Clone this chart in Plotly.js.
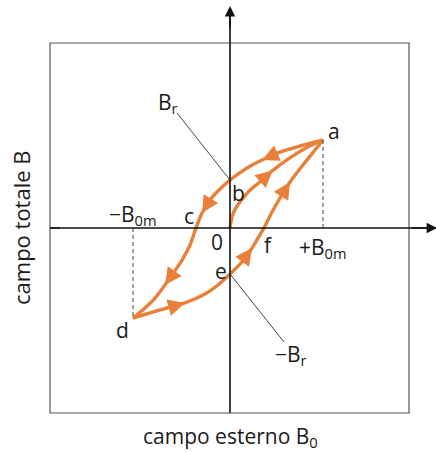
<!DOCTYPE html>
<html>
<head>
<meta charset="utf-8">
<script src="https://cdn.plot.ly/plotly-3.0.1.min.js"></script>
<style>
  html, body { margin: 0; padding: 0; background: #ffffff; }
  #chart { width: 436px; height: 453px; }
</style>
</head>
<body>
<div id="chart"></div>
<script>
// Hysteresis loop: external field B0 (in units of B0m) vs total field B (in units of Bmax)

// First magnetisation curve, from the origin up to saturation point a
const firstX = [0, 0.02, 0.06, 0.12, 0.20, 0.30, 0.45, 0.63, 0.80, 0.979];
const firstY = [0, 0.12, 0.22, 0.31, 0.41, 0.50, 0.64, 0.78, 0.89, 0.978];

// Descending branch a -> b -> c -> d
const downX = [0.979, 0.737, 0.526, 0.337, 0.179, 0, -0.126, -0.211, -0.295, -0.358, -0.421, -0.505, -0.589, -0.684, -0.789, -0.895, -1.021];
const downY = [0.978, 0.911, 0.844, 0.756, 0.667, 0.533, 0.411, 0.311, 0.167, 0, -0.189, -0.356, -0.489, -0.633, -0.778, -0.889, -1.0];

// Ascending branch d -> e -> f -> a
const upX = [-1.021, -0.737, -0.474, -0.263, -0.126, 0, 0.126, 0.232, 0.295, 0.358, 0.442, 0.526, 0.632, 0.768, 0.895, 0.979];
const upY = [-1.0, -0.911, -0.833, -0.733, -0.633, -0.511, -0.378, -0.222, -0.111, 0, 0.178, 0.333, 0.511, 0.700, 0.867, 0.978];

// Point indices carrying a direction arrow on each branch
const firstArrows = [6];
const downArrows = [3, 8, 13];
const upArrows = [2, 7, 12];

// Letters naming the remarkable points of the loop
const pointNames = ['a', 'b', 'c', 'd', 'e', 'f', '0'];

// Axis labels and marked values
const xTitle = 'campo esterno B<sub>0</sub>';
const yTitle = 'campo totale B';
const plusB0m = '+B<sub>0m</sub>';
const minusB0m = '\u2212B<sub>0m</sub>';
const plusBr = 'B<sub>r</sub>';
const minusBr = '\u2212B<sub>r</sub>';

const ORANGE = '#E8803A';
const FONT = 'Open Sans, Noto Sans, sans-serif';

// Pixel geometry: origin at (230, 228); 95 px per B0m unit, 90 px per Bmax unit
const W = 436, H = 453;
const ox = 230, oy = 228, sx = 95, sy = 90;
const xRange = [-ox / sx, (W - ox) / sx];
const yRange = [(oy - H) / sy, oy / sy];
const px = p => (p - ox) / sx;     // pixel column -> data x
const py = p => (oy - p) / sy;     // pixel row -> data y

const curveLine = { color: ORANGE, width: 3.4, shape: 'spline', smoothing: 0.8 };

const traces = [
  { x: firstX, y: firstY, mode: 'lines', line: curveLine, hoverinfo: 'skip' },
  { x: downX, y: downY, mode: 'lines', line: curveLine, hoverinfo: 'skip' },
  { x: upX, y: upY, mode: 'lines', line: curveLine, hoverinfo: 'skip' }
];

const a = [downX[0], downY[0]];
const b = [downX[5], downY[5]];
const c = [downX[9], downY[9]];
const d = [downX[downX.length - 1], downY[downY.length - 1]];
const e = [upX[5], upY[5]];
const f = [upX[9], upY[9]];
const o = [firstX[0], firstY[0]];
const keyPoints = { a: a, b: b, c: c, d: d, e: e, f: f, '0': o };
const labelShift = {
  a: [11, 9], b: [8, -13], c: [-7, 12], d: [-11, -12],
  e: [-9, 3], f: [4, -17], '0': [-13, -14]
};

const shapes = [
  // outer frame
  { type: 'rect', xref: 'x', yref: 'y', x0: px(50), x1: px(409), y0: py(413), y1: py(43),
    line: { color: '#555555', width: 1.2 } },
  // axes
  { type: 'line', xref: 'x', yref: 'y', x0: px(50), x1: xRange[1], y0: 0, y1: 0,
    line: { color: '#111111', width: 1.6 } },
  { type: 'line', xref: 'x', yref: 'y', x0: 0, x1: 0, y0: py(413), y1: py(12),
    line: { color: '#111111', width: 1.6 } },
  // small tick on the left edge of the frame
  { type: 'line', xref: 'x', yref: 'y', x0: px(50), x1: px(60), y0: 0, y1: 0,
    line: { color: '#111111', width: 1.2 } },
  // dashed guides at +B0m and -B0m
  { type: 'line', xref: 'x', yref: 'y', x0: a[0], x1: a[0], y0: 0, y1: a[1],
    line: { color: '#444444', width: 1, dash: '4px,3px' } },
  { type: 'line', xref: 'x', yref: 'y', x0: d[0], x1: d[0], y0: 0, y1: d[1],
    line: { color: '#444444', width: 1, dash: '4px,3px' } },
  // leader lines for the remanent fields
  { type: 'line', xref: 'x', yref: 'y', x0: px(177), y0: py(113), x1: b[0], y1: b[1],
    line: { color: '#444444', width: 1 } },
  { type: 'line', xref: 'x', yref: 'y', x0: e[0], y0: e[1], x1: px(284), y1: py(342),
    line: { color: '#444444', width: 1 } }
];

const annotations = [];

// arrow heads of the axes
annotations.push({ x: 0, y: py(6), ax: 0, ay: py(30), xref: 'x', yref: 'y', axref: 'x', ayref: 'y',
  text: '', showarrow: true, arrowhead: 2, arrowsize: 1.3, arrowwidth: 1.6, arrowcolor: '#111111', standoff: 0 });
annotations.push({ x: px(437), y: 0, ax: px(410), ay: 0, xref: 'x', yref: 'y', axref: 'x', ayref: 'y',
  text: '', showarrow: true, arrowhead: 2, arrowsize: 1.3, arrowwidth: 1.6, arrowcolor: '#111111', standoff: 0 });

// direction arrows along the loop
function addArrows(xs, ys, idx) {
  idx.forEach(i => {
    annotations.push({ x: xs[i], y: ys[i], ax: xs[i - 1], ay: ys[i - 1],
      xref: 'x', yref: 'y', axref: 'x', ayref: 'y', text: '', showarrow: true,
      arrowhead: 2, arrowsize: 1.3, arrowwidth: 2.6, arrowcolor: ORANGE, standoff: 0 });
  });
}
addArrows(firstX, firstY, firstArrows);
addArrows(downX, downY, downArrows);
addArrows(upX, upY, upArrows);

const textFont = { family: FONT, size: 21, color: '#1a1a1a' };

// point letters
pointNames.forEach(n => {
  const p = keyPoints[n];
  annotations.push({ x: p[0], y: p[1], xref: 'x', yref: 'y', text: n, showarrow: false,
    xshift: labelShift[n][0], yshift: labelShift[n][1], font: textFont,
    xanchor: 'center', yanchor: 'middle' });
});

// value labels
annotations.push({ x: a[0], y: 0, xref: 'x', yref: 'y', text: plusB0m, showarrow: false,
  yshift: -20, font: textFont, xanchor: 'center', yanchor: 'middle' });
annotations.push({ x: d[0], y: 0, xref: 'x', yref: 'y', text: minusB0m, showarrow: false,
  xshift: 0, yshift: 13, font: textFont, xanchor: 'center', yanchor: 'middle' });
annotations.push({ x: px(177), y: py(113), xref: 'x', yref: 'y', text: plusBr, showarrow: false,
  xshift: -9, yshift: 10, font: textFont, xanchor: 'center', yanchor: 'middle' });
annotations.push({ x: px(284), y: py(342), xref: 'x', yref: 'y', text: minusBr, showarrow: false,
  xshift: 7, yshift: -13, font: textFont, xanchor: 'center', yanchor: 'middle' });

// axis titles
annotations.push({ x: 0, y: py(437), xref: 'x', yref: 'y', text: xTitle, showarrow: false,
  font: textFont, xanchor: 'center', yanchor: 'middle' });
annotations.push({ x: px(21), y: 0, xref: 'x', yref: 'y', text: yTitle, showarrow: false,
  textangle: -90, font: { family: FONT, size: 22, color: '#1a1a1a' }, xanchor: 'center', yanchor: 'middle' });

const layout = {
  width: W, height: H,
  margin: { l: 0, r: 0, t: 0, b: 0, pad: 0, autoexpand: false },
  paper_bgcolor: '#ffffff', plot_bgcolor: '#ffffff',
  showlegend: false,
  xaxis: { range: xRange, visible: false, fixedrange: true },
  yaxis: { range: yRange, visible: false, fixedrange: true },
  shapes: shapes,
  annotations: annotations
};

Plotly.newPlot('chart', traces, layout, { staticPlot: true, displayModeBar: false });
</script>
</body>
</html>
